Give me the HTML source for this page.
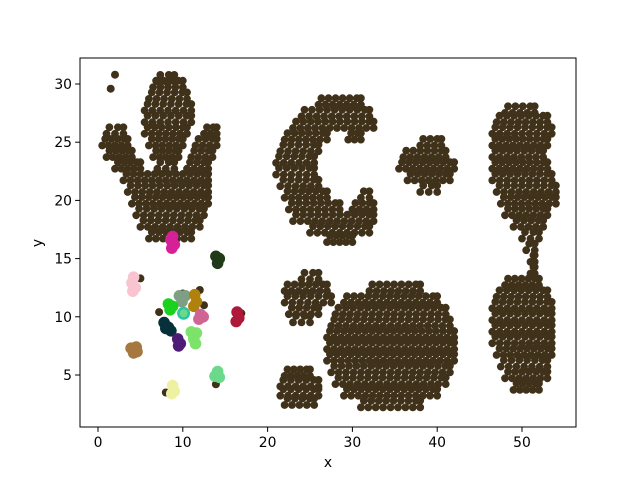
<!DOCTYPE html>
<html><head><meta charset="utf-8"><style>
html,body{margin:0;padding:0;background:#fff;}
svg{display:block;font-family:"DejaVu Sans","Liberation Sans",sans-serif;}
</style></head><body>
<svg id="chart" width="640" height="480">
<rect x="0" y="0" width="640" height="480" fill="#fff"/>
<g id="marks"></g>
<rect x="80" y="58" width="496" height="369" fill="none" stroke="#000" stroke-width="1"/>
<g id="axes"></g>
<text x="328" y="467" font-size="13.9" text-anchor="middle">x</text>
<text x="42" y="243" font-size="13.9" text-anchor="middle" transform="rotate(-90 42 243)">y</text>
</svg>
<script>
const xTicks=[0,10,20,30,40,50];
const yTicks=[5,10,15,20,25,30];
const darkColor="#40321a";
// dense dark clusters as bands: [y, xStart, xEnd]
const clusterV=[[30.5,7,9],[30,6.5,10],[29,6,10.5],[28,5.5,11],[27,5.5,11],[26,1,3],[26,5.5,10.5],[26,12.5,14],[25,0.5,3.5],[25,6,10],[25,11.5,14],[24,1,4],[24,6.5,9.5],[24,11,13.5],[23,2,5],[23,7,9],[23,10.5,13],[22,3,13],[21,3.5,13],[20,4,13],[19,4.5,12.5],[18,5,12],[17,6,11]];
const clusterCrescent=[[28.5,26,31],[27.5,24,32],[26.5,23,32.5],[25.5,22,27],[25.5,29.5,31],[24.5,21.5,26],[23.5,21,25.5],[22.5,21,25.5],[21.5,21.5,26],[20.5,22,27],[20.5,31,32],[19.5,22.5,28.5],[19.5,30,32.5],[18.5,23,32.5],[17.5,25,32],[16.7,27,30]];
const clusterSmall=[[25,38,40.5],[24,36,41],[23,35.5,42],[22,36.5,41.5],[21,38,40]];
const clusterTopRight=[[27.8,48,51.5],[27,47,53],[26,46.5,53.5],[25,46.5,53],[24,46.5,52.5],[23,46.5,53],[22,46.5,53.5],[21,47,54],[20,47.5,54],[19,48,53],[18,49,52.5],[17,50,52],[16,50.5,51.5],[15,51,51.5],[14,51,51.5]];
const clusterBottomRight=[[13,48,52],[12,47,53],[11,46.5,53.5],[10,46.5,53.5],[9,46.5,53.5],[8,46.5,53.5],[7,47,53.5],[6,47.5,53],[5,48,53],[4,49,52]];
const clusterCircle=[[12.5,32,38],[11.5,29,40],[10.5,28,41],[9.5,27.5,41.5],[8.5,27,42],[7.5,27,42],[6.5,27,42],[5.5,27.5,41.5],[4.5,28,41],[3.5,29,40],[2.5,31,38]];
const clusterMid=[[13.5,24,26],[12.5,22,27],[11.5,22,27.5],[10.5,22.5,26],[9.8,23,25]];
const clusterLow=[[5.2,22,25],[4.3,21.5,26],[3.5,21.5,26],[2.7,22,25.5]];
const darkSingles=[[2,30.8],[1.5,29.6],[5,13.3],[8,3.5],[13.9,4.2],[16.9,10.3],[12,12.3],[12.5,11],[10,12],[7.2,10.4]];
// small coloured clusters: [x, y]
const magentaPts=[[8.6,16.6],[9,16.2],[8.7,15.9],[8.8,16.9]];
const pinkPts=[[4.2,13.4],[4.0,12.9],[4.4,12.5],[4.1,12.2]];
const brownPts=[[3.9,7.3],[4.5,7.4],[4.2,6.9],[4.6,7.0]];
const dkGreenPts=[[13.9,15.2],[14.3,15.0],[14.1,14.6]];
const grayGreenPts=[[9.6,11.8],[10.3,11.8],[9.9,11.3]];
const goldPts=[[11.4,11.9],[11.6,11.3],[11.3,10.9]];
const greenPts=[[8.3,11.1],[8.8,10.9],[8.5,10.6]];
const mauvePts=[[12.1,10.2],[11.9,9.8],[12.4,10.0]];
const tealRingPts=[[10.1,10.3]];
const tealDarkPts=[[7.8,9.5],[8.3,9.1],[8.6,8.8],[8.0,9.0]];
const purplePts=[[9.4,8.1],[9.7,7.7],[9.5,7.5]];
const lightGreenPts=[[11.0,8.7],[11.6,8.6],[11.3,8.1],[11.5,7.7]];
const crimsonPts=[[16.4,10.4],[16.6,9.9],[16.3,9.6]];
const yellowPts=[[8.8,4.1],[9.0,3.6],[8.7,3.4]];
const mintPts=[[14.1,5.3],[13.8,4.9],[14.3,4.8]];

const X0=80,X1=576,Y0=58,Y1=427;
function sx(v){return 98+v*8.48;}
function sy(v){return 84+(30-v)*11.64;}
const NS="http://www.w3.org/2000/svg";
const marks=document.getElementById('marks');
function dot(x,y,c,r,name){
  const e=document.createElementNS(NS,'circle');
  e.setAttribute('cx',sx(x).toFixed(1));e.setAttribute('cy',sy(y).toFixed(1));
  e.setAttribute('r',r);e.setAttribute('fill',c);
  
  
  marks.appendChild(e);
}
function bands(arr,name){
  arr.forEach(b=>{
    [[-0.28,0],[0.28,0.35]].forEach(o=>{
      const y=b[0]+o[0];
      const n=Math.max(1,Math.round((b[2]-b[1])/0.85));
      for(let i=0;i<=n;i++){
        let x=b[1]+(b[2]-b[1])*i/n+(i<n?o[1]:0);
        if(x>b[2])x=b[2];
        dot(x,y,darkColor,3.9,name);
      }
    });
  });
}
bands(clusterV,'v-cluster-point');
bands(clusterCrescent,'crescent-cluster-point');
bands(clusterSmall,'small-cluster-point');
bands(clusterTopRight,'top-right-cluster-point');
bands(clusterBottomRight,'bottom-right-cluster-point');
bands(clusterCircle,'circle-cluster-point');
bands(clusterMid,'mid-cluster-point');
bands(clusterLow,'low-cluster-point');
darkSingles.forEach(p=>dot(p[0],p[1],darkColor,4,'outlier-point'));
function grp(arr,c,name){arr.forEach(p=>dot(p[0],p[1],c,5.8,name));}
grp(magentaPts,'#d62097','magenta-point');
grp(pinkPts,'#f7c4cf','pink-point');
grp(brownPts,'#a6773f','brown-point');
grp(dkGreenPts,'#213a19','dark-green-point');
grp(grayGreenPts,'#7f9f84','gray-green-point');
grp(goldPts,'#b0820c','gold-point');
grp(greenPts,'#1ad11f','green-point');
grp(mauvePts,'#d06495','mauve-point');
grp(tealDarkPts,'#06303a','dark-teal-point');
grp(purplePts,'#4e1c76','purple-point');
grp(lightGreenPts,'#7ce26a','light-green-point');
grp(crimsonPts,'#b0183a','crimson-point');
grp(yellowPts,'#eef2a0','yellow-point');
grp(mintPts,'#6ad98a','mint-point');
tealRingPts.forEach(p=>{dot(p[0],p[1],'#2fc4a0',6.5,'teal-ring-point');dot(p[0],p[1],'#6ad98a',4,'teal-ring-center');});

const axes=document.getElementById('axes');
xTicks.forEach(t=>{
  const l=document.createElementNS(NS,'line');
  l.setAttribute('x1',sx(t));l.setAttribute('x2',sx(t));l.setAttribute('y1',Y1);l.setAttribute('y2',Y1+4.9);
  l.setAttribute('stroke','#000');
  
  
  axes.appendChild(l);
  const tx=document.createElementNS(NS,'text');
  tx.setAttribute('x',sx(t));tx.setAttribute('y',Y1+20);tx.setAttribute('font-size','13.9');tx.setAttribute('text-anchor','middle');
  tx.textContent=t;
  
  
  axes.appendChild(tx);
});
yTicks.forEach(t=>{
  const l=document.createElementNS(NS,'line');
  l.setAttribute('x1',X0-4.9);l.setAttribute('x2',X0);l.setAttribute('y1',sy(t));l.setAttribute('y2',sy(t));
  l.setAttribute('stroke','#000');
  
  
  axes.appendChild(l);
  const tx=document.createElementNS(NS,'text');
  tx.setAttribute('x',X0-8);tx.setAttribute('y',sy(t)+5);tx.setAttribute('font-size','13.9');tx.setAttribute('text-anchor','end');
  tx.textContent=t;
  
  
  axes.appendChild(tx);
});
</script>
</body></html>
